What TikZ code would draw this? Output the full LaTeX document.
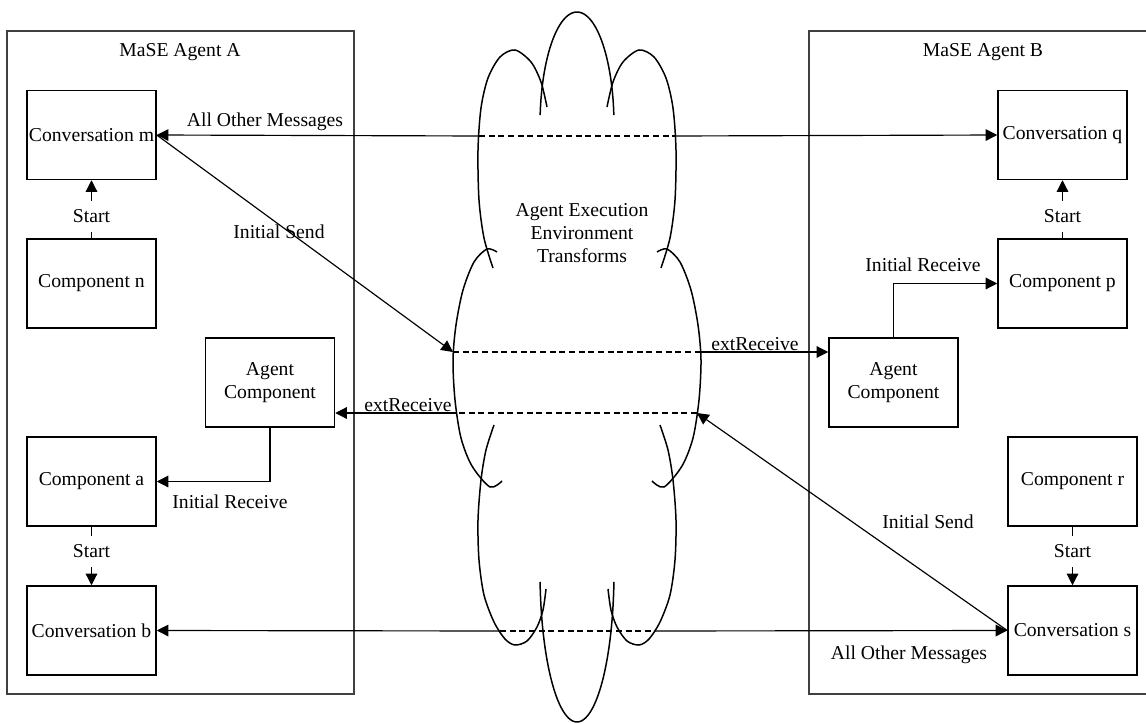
\documentclass[tikz,border=0pt]{standalone}
\usepackage{fontspec}
\setmainfont{Liberation Serif}
\usetikzlibrary{arrows.meta}
\begin{document}
\begin{tikzpicture}[x=0.6pt,y=-0.6pt,
  every node/.style={font=\fontsize{11.8pt}{14pt}\selectfont},
  box/.style={draw, line width=0.9pt, minimum width=77.4pt, minimum height=53.4pt, inner sep=0pt, align=center},
  agentbox/.style={draw=black!75, line width=1.1pt},
  arr/.style={line width=0.7pt, -{Triangle[length=7pt,width=7pt]}},
  hidden/.style={line width=0.7pt, dash pattern=on 3.6pt off 2.2pt},
  lbl/.style={inner sep=1pt},
  startlbl/.style={fill=white, inner sep=0pt, minimum height=18.6pt, minimum width=20pt},
  cloudline/.style={line width=0.9pt}
]
\useasboundingbox (0,0) rectangle (1146,724);

% the two agents
\draw[agentbox] (7,31) rectangle (354,694);
\draw[agentbox] (1146,31) -- (809,31) -- (809,694) -- (1146,694);
\node (titleA) at (180,52) {MaSE Agent A};
\node (titleB) at (983,52) {MaSE Agent B};

% components of agent A
\node[box] (convm) at (91.5,135)   {Conversation m};
\node[box] (compn) at (91.5,283.5) {Component n};
\node[box] (agA)   at (270,382.5)  {Agent\\Component};
\node[box] (compa) at (91.5,481.5) {Component a};
\node[box] (convb) at (91.5,630.5) {Conversation b};

% components of agent B
\node[box] (convq) at (1062.5,135)   {Conversation q};
\node[box] (compp) at (1062.5,283.5) {Component p};
\node[box] (agB)   at (893.5,382.5)  {Agent\\Component};
\node[box] (compr) at (1072.5,481.5) {Component r};
\node[box] (convs) at (1072.5,630.5) {Conversation s};

% points where messages enter and leave the environment
\coordinate (topL)    at (479,136);
\coordinate (topR)    at (675,136);
\coordinate (extBin)  at (453,352);
\coordinate (extBout) at (701,352);
\coordinate (extAin)  at (697,413);
\coordinate (extAout) at (456,413);
\coordinate (botL)    at (500,631);
\coordinate (botR)    at (654,631);

% all other messages (top)
\draw[arr] (topL) -- (convm.east);
\draw[hidden] (topL) -- (topR);
\draw[arr] (topR) -- (convq.west);
\node[lbl] (aomA) at (265,122) {All Other Messages};

% initial send from A, received by B
\draw[arr] (convm.east) -- (extBin);
\node[lbl] (isA) at (279,232) {Initial Send};
\draw[hidden] (extBin) -- (extBout);
\draw[arr] (extBout) -- (extBout -| agB.west);
\node[lbl] (erB) at (755,344) {extReceive};

% initial send from B, received by A
\draw[arr] (convs.west) -- (extAin);
\node[lbl] (isB) at (928,522) {Initial Send};
\draw[hidden] (extAin) -- (extAout);
\draw[arr] (extAout) -- (extAout -| agA.east);
\node[lbl] (erA) at (408,405) {extReceive};

% all other messages (bottom)
\draw[arr] (botL) -- (convb.east);
\draw[hidden] (botL) -- (botR);
\draw[arr] (botR) -- (convs.west);
\node[lbl] (aomB) at (909,655) {All Other Messages};

% initial receive
\draw[arr] (agA.south) |- (compa.east);
\node[lbl] (irA) at (230,502) {Initial Receive};
\draw[arr] (agB.north) |- (compp.west);
\node[lbl] (irB) at (923,265) {Initial Receive};

% start
\draw[arr] (compn.north) -- node[startlbl, pos=0.38] (stA1) {Start} (convm.south);
\draw[arr] (compa.south) -- node[startlbl, pos=0.42] (stA2) {Start} (convb.north);
\draw[arr] (compp.north) -- node[startlbl, pos=0.38] (stB1) {Start} (convq.south);
\draw[arr] (compr.south) -- node[startlbl, pos=0.42] (stB2) {Start} (convs.north);

% the agent execution environment (cloud)
\draw[cloudline] plot[domain=-175:-5, samples=60] ({577+37*cos(\x)},{125+113*sin(\x)});
\draw[cloudline] plot[domain=3.8:176.2, samples=60] ({577+37*cos(\x)},{572+150*sin(\x)});
\draw[cloudline] plot[smooth] coordinates {(547,107) (541,82) (531,62) (515,50) (500,57) (488,78) (481,108) (478,150) (479,200) (484,238) (493,268)};
\draw[cloudline] plot[smooth] coordinates {(607,107) (613,82) (623,62) (639,50) (654,57) (666,78) (673,108) (676,150) (675,200) (670,238) (661,268)};
\draw[cloudline] plot[smooth] coordinates {(497,252) (487,249) (474,262) (463,290) (456,325) (453,360) (455,400) (461,438) (472,466) (490,487) (502,481)};
\draw[cloudline] plot[smooth] coordinates {(657,252) (667,249) (680,262) (691,290) (698,325) (701,360) (699,400) (693,438) (682,466) (664,487) (652,481)};
\draw[cloudline] plot[smooth] coordinates {(494,425) (486,450) (481,480) (478,520) (479,560) (484,595) (494,622) (505,639) (515,645) (527,641) (537,627) (543,610) (546,589)};
\draw[cloudline] plot[smooth] coordinates {(660,425) (668,450) (673,480) (676,520) (675,560) (670,595) (660,622) (649,639) (639,645) (627,641) (617,627) (611,610) (608,589)};
\node[align=center, font=\fontsize{11.8pt}{14pt}\selectfont] (env) at (582,233) {Agent Execution\\Environment\\Transforms};
\end{tikzpicture}
\end{document}
